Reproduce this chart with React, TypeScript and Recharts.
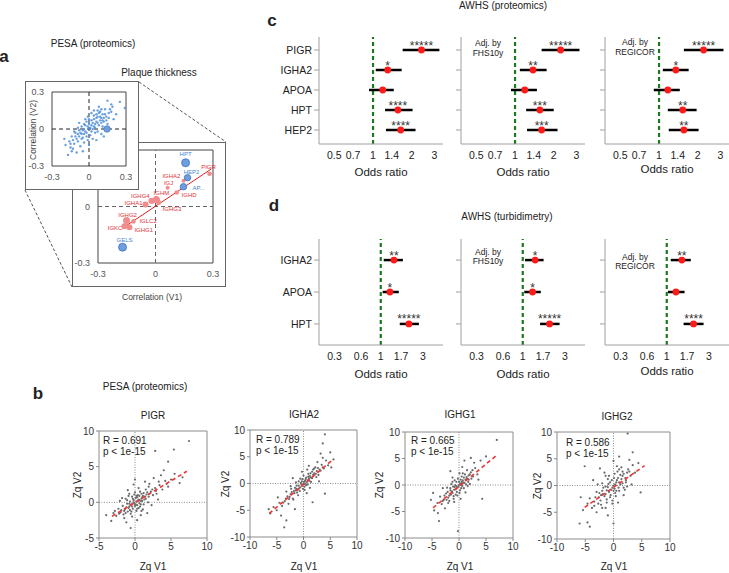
import React from "react";
import {
  ScatterChart,
  Scatter,
  XAxis,
  YAxis,
  ReferenceLine,
  ReferenceArea,
  ErrorBar,
} from "recharts";

const FONT = '"Liberation Sans", Arial, Helvetica, sans-serif';

// ---------- panel a : PESA (proteomics), plaque thickness correlations ----------
const allProtV1V2: [number, number][] = [
  [0, 0], [0.02, 0.03], [-0.03, -0.02], [0.05, 0.04], [-0.05, -0.01], [0.04, 0.08], [-0.08, -0.06],
  [0.08, 0.03], [0.01, -0.05], [-0.02, 0.06], [0.1, 0.09], [-0.1, -0.08], [0.06, 0.12], [-0.06, 0.02],
  [0.12, 0.06], [-0.12, -0.12], [0.03, -0.08], [-0.04, -0.11], [0.09, 0.14], [-0.09, 0.01], [0.14, 0.1],
  [-0.14, -0.06], [0.07, -0.02], [-0.01, 0.1], [0.11, 0.02], [-0.07, -0.14], [0.13, 0.16], [-0.16, -0.1],
  [0.0, -0.13], [0.04, 0.15], [-0.11, -0.03], [0.16, 0.13], [-0.13, -0.16], [0.1, -0.04], [-0.03, 0.08],
  [0.15, 0.04], [-0.17, -0.21], [-0.15, -0.15], [0.29, 0.17], [0.15, 0.23], [0.18, 0.2], [0.2, 0.08],
  [-0.19, -0.13], [0.08, 0.18], [-0.05, -0.18], [0.12, -0.06], [-0.08, 0.05], [0.02, 0.13], [0.06, -0.09],
  [-0.2, -0.08], [0.17, 0.16], [0.22, 0.12], [-0.1, -0.19], [0.05, 0.01], [-0.02, -0.06], [0.03, 0.05],
  [-0.06, -0.04], [0.09, 0.07], [0.25, 0.22], [0.07, 0.1], [-0.04, 0.04], [0.11, 0.12], [-0.12, -0.02],
  [0.01, 0.01], [-0.01, 0.02], [0.03, 0.0], [-0.04, -0.04], [0.06, 0.06], [0.0, 0.04], [-0.02, -0.03],
  [0.07, 0.05], [-0.07, -0.03], [0.04, 0.02], [0.02, 0.07], [-0.05, -0.07], [0.09, 0.1], [-0.09, -0.1],
  [0.05, -0.03], [-0.03, 0.03], [0.11, 0.07], [-0.11, -0.06], [0.13, 0.12], [-0.13, -0.09], [0.08, 0.13],
  [0.0, 0.08], [-0.08, -0.01], [0.1, 0.05], [0.06, 0.09], [-0.04, 0.0], [0.12, 0.09], [-0.15, -0.12],
  [0.14, 0.07], [0.02, -0.02], [-0.06, -0.08], [0.18, 0.14], [-0.01, -0.09], [0.16, 0.09], [0.07, 0.15],
  [-0.09, -0.04], [0.04, 0.11], [0.19, 0.18], [-0.14, -0.18], [0.1, 0.16],
];
const highlightV1V2: [number, number][] = [[0.146, 0]];

const blueNames = ["HPT", "HEP2", "AP...", "GELS"];
const blueV1 = [0.157, 0.167, 0.146, -0.172];
const blueV2 = [0.232, 0.153, 0.105, -0.216];

const redNames = ["PIGR", "IGHA2", "IGJ", "IGHD", "IGHM", "IGHG4", "IGHG3", "IGHA1", "IGHG2", "IGLC2", "IGKC", "IGHG1"];
const redV1 = [0.282, 0.146, 0.063, 0.11, 0.005, -0.02, 0.016, -0.052, -0.151, -0.115, -0.162, -0.136];
const redV2 = [0.174, 0.137, 0.1, 0.074, 0.037, 0.03, 0.021, 0.01, -0.074, -0.079, -0.105, -0.11];

const igFit: [number, number][] = [[-0.157, -0.105], [0.292, 0.2]];
const corrTicks = [-0.3, 0, 0.3];

// label placement / bubble size (style only)
const bubbleStyle: Record<string, [number, number, "start" | "middle" | "end", number]> = {
  HPT: [0, -9, "middle", 4],
  HEP2: [4, -6, "middle", 3.2],
  "AP...": [9, 1, "start", 3.2],
  GELS: [2, -7, "middle", 4],
  PIGR: [-1, -7, "middle", 2.3],
  IGHA2: [-3, -5, "end", 2],
  IGJ: [1, -5, "middle", 2],
  IGHD: [5, 2, "start", 2.3],
  IGHM: [5, -7, "middle", 3.5],
  IGHG4: [-2, -5, "end", 3.2],
  IGHG3: [4, 6, "start", 2.5],
  IGHA1: [-3, -2, "end", 3],
  IGHG2: [1, -5, "middle", 3.5],
  IGLC2: [6, 0, "start", 2.3],
  IGKC: [-2, 2, "end", 3],
  IGHG1: [5, 3, "start", 3],
};

// ---------- panel c : AWHS (proteomics) ----------
const protRows = ["PIGR", "IGHA2", "APOA", "HPT", "HEP2"];
const protCrudeOR = [2.38, 1.3, 1.19, 1.56, 1.64];
const protCrudeLo = [1.7, 1.05, 0.93, 1.24, 1.26];
const protCrudeHi = [3.28, 1.67, 1.45, 2.03, 2.14];
const protCrudeStars = ["*****", "*", "", "****", "****"];
const protFhsOR = [2.26, 1.38, 1.19, 1.56, 1.61];
const protFhsLo = [1.61, 1.09, 0.93, 1.22, 1.24];
const protFhsHi = [3.17, 1.76, 1.48, 2.0, 2.14];
const protFhsStars = ["*****", "**", "", "***", "***"];
const protRegOR = [2.22, 1.35, 1.17, 1.53, 1.56];
const protRegLo = [1.56, 1.07, 0.91, 1.17, 1.19];
const protRegHi = [3.17, 1.7, 1.45, 1.96, 2.03];
const protRegStars = ["*****", "*", "", "**", "**"];
const protTicks = [0.5, 0.7, 1, 1.4, 2, 3];

// ---------- panel d : AWHS (turbidimetry) ----------
const turbRows = ["IGHA2", "APOA", "HPT"];
const turbCrudeOR = [1.41, 1.27, 2.08];
const turbCrudeLo = [1.08, 1.05, 1.64];
const turbCrudeHi = [1.78, 1.6, 2.7];
const turbCrudeStars = ["**", "*", "*****"];
const turbFhsOR = [1.38, 1.29, 2.01];
const turbFhsLo = [1.06, 1.04, 1.57];
const turbFhsHi = [1.72, 1.6, 2.61];
const turbFhsStars = ["*", "*", "*****"];
const turbRegOR = [1.48, 1.27, 2.01];
const turbRegLo = [1.11, 1.03, 1.55];
const turbRegHi = [1.87, 1.59, 2.61];
const turbRegStars = ["**", "", "****"];
const turbTicks = [0.3, 0.6, 1, 1.7, 3];

// ---------- panel b : PESA (proteomics), Zq V1 vs Zq V2 ----------
const pigrPts: [number, number][] = [
  [-0.5, -0.3], [0.2, 0.1], [0.5, 0.4], [-0.2, 0.3], [0.8, 0.2], [-0.8, -0.6], [1.0, 0.7], [0.3, -0.4],
  [-1.1, -0.2], [0.6, -0.1], [-0.4, 0.8], [1.3, 0.4], [-1.4, -1.0], [0.1, 0.6], [-0.7, 0.1], [1.6, 1.1],
  [0.9, 1.2], [-0.3, -0.9], [0.4, 1.0], [-1.0, -1.3], [1.9, 0.8], [-1.7, -0.5], [0.7, -0.6], [-0.1, -0.2],
  [2.2, 1.5], [-2.0, -1.4], [1.2, -0.3], [-0.6, -1.6], [0.0, 1.4], [2.5, 1.0], [-1.3, 0.5], [1.5, 1.8],
  [-2.3, -0.9], [0.2, -1.2], [-0.9, 0.9], [2.8, 2.0], [-2.6, -1.9], [1.8, 0.0], [0.5, 2.0], [-1.5, -2.2],
  [3.0, 1.2], [3.4, 2.4], [-3.0, -1.5], [2.0, 2.6], [-0.2, 2.5], [1.1, -1.0], [-1.8, 0.6], [3.8, 1.8],
  [4.2, 3.0], [4.6, 2.2], [-3.3, -2.6], [0.8, -1.8], [2.6, 3.4], [5.0, 3.2], [5.5, 4.0], [6.2, 2.7],
  [4.0, 4.5], [2.8, 7.2], [4.6, 5.7], [5.4, 7.4], [7.5, 8.6], [-0.6, -3.6], [-1.2, -2.8], [0.3, -2.5],
  [1.4, 2.9], [3.2, 0.4], [6.6, 3.5], [-2.1, 0.2], [-4.0, -1.8], [0.0, 3.2], [1.7, -1.5], [-1.0, 1.7],
  [2.3, -0.4], [3.6, 3.8], [-0.4, -2.0], [0.6, 0.9], [-0.8, -0.2], [1.0, 0.2],
  [-0.2, 0.0], [0.1, -0.3], [0.4, 0.2], [-0.6, -0.4], [0.9, 0.5], [-0.9, -0.8], [0.3, 0.7], [-0.4, -0.6],
  [1.1, 0.9], [-1.2, -0.7], [0.0, -0.5], [0.6, 0.3], [-0.3, 0.5], [1.4, 0.8], [-1.5, -1.2], [0.2, 0.9],
  [-0.7, -1.1], [0.8, -0.3], [1.7, 1.4], [-1.9, -1.1], [0.5, -0.8], [-0.1, 1.1], [1.2, 1.3], [-1.1, 0.3],
  [2.0, 1.2], [-0.5, -1.3], [0.7, 1.5], [-1.6, -1.7], [2.4, 1.8], [-2.2, -1.6], [0.9, -1.2], [-0.8, 1.2],
  [1.5, 0.5], [-1.3, -1.5], [0.3, -0.9], [2.9, 1.6], [1.9, 2.2], [-2.8, -1.2], [3.3, 2.9], [4.4, 2.6],
];
const pigrFit: [number, number][] = [[-3.2, -1.96], [7.2, 4.35]];

const igha2Pts: [number, number][] = [
  [0, 0], [0.3, 0.5], [-0.4, -0.2], [0.8, 0.6], [-0.8, -0.9], [1.2, 1.4], [-1.3, -1.0], [0.5, -0.3],
  [-0.2, 0.8], [1.6, 1.0], [-1.7, -1.8], [2.0, 1.9], [-2.2, -1.6], [0.9, 1.8], [-1.0, -2.2], [2.5, 2.3],
  [-2.6, -2.5], [1.4, 0.3], [-0.6, 0.9], [3.0, 2.6], [-3.0, -2.4], [2.2, 3.0], [-1.9, -3.0], [3.4, 3.5],
  [-3.5, -3.3], [0.2, -1.2], [-0.9, 0.4], [3.8, 2.8], [-4.0, -4.2], [1.8, 2.6], [-2.8, -3.8], [4.2, 4.3],
  [-4.5, -3.6], [2.8, 1.6], [-1.4, 0.2], [4.6, 3.4], [-5.0, -5.0], [1.0, 3.3], [-3.2, -1.5], [3.6, 4.8],
  [-5.6, -4.4], [-6.2, -5.6], [0.6, -1.8], [2.6, 4.0], [4.0, 9.2], [3.6, 7.5], [5.0, 5.8], [5.6, 4.5],
  [5.2, 3.0], [1.7, -3.5], [4.0, -1.9], [-3.2, -6.9], [-3.6, -8.2], [-4.2, -6.0], [-6.5, -4.8], [-2.4, -0.5],
  [1.2, -0.8], [-0.3, 2.2], [2.9, 0.4], [-1.6, -4.8], [0.7, 2.6], [-2.0, 1.0], [3.2, 5.6], [-4.8, -2.6],
  [0.1, 0.3], [-0.2, -0.4], [0.6, 0.2], [-0.6, -0.7], [1.0, 1.0], [-1.1, -1.2], [0.4, 0.8], [-0.5, 0.1],
  [1.4, 1.1], [-1.5, -1.3], [0.2, -0.6], [0.9, 1.3], [-0.9, -0.4], [1.8, 1.6], [-1.8, -1.4], [0.5, 1.1],
  [-1.2, -1.7], [2.3, 1.8], [-2.4, -2.0], [1.1, 0.5], [-0.7, -1.4], [2.7, 2.9], [-2.7, -2.9], [1.6, 2.2],
  [-1.6, -0.8], [3.2, 2.4], [-3.3, -2.8], [0.0, 1.5], [0.8, -0.2], [-0.1, -1.0], [2.0, 2.8], [-2.0, -2.8],
  [1.3, 1.9], [-1.3, -0.4], [3.6, 3.0], [-3.8, -3.6], [0.3, -0.1], [-0.3, 0.4], [2.4, 1.2], [-2.3, -1.0],
];
const igha2Fit: [number, number][] = [[-6.4, -5.6], [5.3, 4.3]];

const ighg1Pts: [number, number][] = [
  [0, 0], [-0.3, -0.5], [0.4, 0.3], [-0.8, -0.4], [0.7, 0.9], [-1.2, -1.5], [1.0, 0.4], [-0.5, 0.6],
  [0.2, -1.0], [-1.6, -1.0], [1.4, 1.5], [-1.0, -2.1], [0.5, 1.6], [-2.0, -2.4], [1.8, 1.0], [-0.2, 1.2],
  [-1.4, 0.2], [2.2, 2.4], [-2.4, -1.6], [0.9, -0.6], [-1.8, -3.0], [1.5, 2.8], [-2.8, -2.8], [2.6, 1.6],
  [-0.6, -1.8], [0.1, 2.2], [-3.2, -3.6], [3.0, 3.2], [-2.2, -0.5], [1.2, -1.4], [-3.5, -2.2], [2.0, 0.2],
  [-1.2, 1.4], [3.4, 2.0], [-2.6, -4.4], [0.6, 3.4], [-4.0, -3.4], [2.8, 4.2], [-0.9, -3.2], [1.6, -0.2],
  [7.0, 8.5], [2.2, 5.1], [-3.9, -5.3], [-3.7, -6.8], [-0.2, -8.7], [-4.8, -1.5], [4.3, -2.6], [4.0, 4.6],
  [3.6, 1.0], [-4.6, -4.8], [0.3, -2.6], [-1.6, 2.6], [5.0, 5.4], [-3.0, -0.6], [-5.2, -2.8], [1.0, 4.6],
  [0.2, 0.2], [-0.1, -0.3], [0.5, 0.6], [-0.6, -0.8], [0.8, 0.5], [-0.9, -0.9], [0.3, 1.0], [-0.4, -1.3],
  [1.2, 1.0], [-1.3, -1.2], [0.0, 0.6], [0.6, -0.2], [-0.7, 0.0], [1.5, 1.2], [-1.5, -1.8], [0.4, -0.6],
  [-1.1, -0.3], [1.8, 1.8], [-1.8, -2.0], [0.9, 1.4], [-0.3, -2.0], [-2.1, -1.3], [2.3, 1.2], [-2.3, -2.8],
  [1.1, 2.0], [-0.8, 0.9], [2.5, 2.8], [-2.7, -2.0], [0.1, -1.5], [-1.6, -0.6], [1.3, 0.1], [-1.0, -2.6],
  [0.7, 2.2], [-2.0, -3.4], [2.0, 2.0], [-0.5, -0.2], [1.7, 0.6], [-3.0, -3.0], [0.5, 0.0], [-1.2, 0.6],
];
const ighg1Fit: [number, number][] = [[-4.8, -4.3], [6.85, 5.5]];

const ighg2Pts: [number, number][] = [
  [0, 0], [-0.4, -0.8], [0.5, 0.6], [-1.0, -0.3], [0.8, 1.4], [-1.4, -1.6], [1.2, 0.2], [-0.3, 1.0],
  [0.3, -1.4], [-2.0, -1.0], [1.6, 1.8], [-1.2, -2.6], [0.2, 2.2], [-2.6, -2.2], [2.2, 1.0], [-0.8, 1.8],
  [-2.0, 0.4], [2.6, 3.0], [-3.0, -1.2], [1.0, -1.0], [-2.2, -3.6], [1.4, 3.4], [-3.4, -3.0], [3.0, 1.8],
  [-0.6, -2.2], [0.6, 3.6], [-3.8, -4.2], [3.4, 3.8], [-2.8, 0.2], [1.8, -1.8], [-4.2, -2.4], [2.4, -0.2],
  [-1.6, 2.4], [3.8, 2.4], [-3.0, -5.0], [0.0, 4.6], [-4.6, -3.4], [2.8, 4.8], [-1.4, -4.2], [2.0, -0.8],
  [2.5, 9.7], [3.4, 6.2], [-5.1, 3.6], [-4.6, -6.9], [-4.2, -7.7], [0.0, -7.1], [-6.0, -7.1], [4.8, -1.3],
  [4.4, 4.2], [-5.4, -4.6], [0.8, -3.2], [-2.4, 3.2], [1.0, 5.4], [-3.6, 1.0], [-5.8, -2.2], [3.2, 0.2],
  [-1.0, -5.6], [1.6, 2.6], [-0.2, -3.4], [-2.2, -1.8],
  [0.3, 0.2], [-0.2, -0.4], [0.6, 1.0], [-0.8, -1.2], [1.0, 0.6], [-1.2, -0.9], [0.1, 1.4], [-0.5, -1.8],
  [1.4, 1.2], [-1.6, -2.0], [0.2, -0.6], [0.9, -0.4], [-0.9, 0.3], [1.8, 2.2], [-1.9, -1.6], [0.5, -1.0],
  [-1.4, -0.2], [2.1, 1.4], [-2.3, -2.8], [1.2, 2.0], [-0.2, -2.8], [-2.5, -1.4], [2.4, 2.4], [-2.7, -3.4],
  [1.0, 3.0], [-1.0, 1.2], [2.8, 2.6], [-3.2, -2.2], [0.4, -2.0], [-1.8, -0.4], [1.6, 0.4], [-1.2, -3.2],
  [0.7, 2.6], [-2.0, -4.2], [2.2, 0.6], [-0.6, 0.6], [1.8, -0.4], [-3.4, -3.8], [0.0, -1.0], [-1.4, 1.8],
];
const ighg2Fit: [number, number][] = [[-5.1, -4.1], [5.5, 3.7]];

// ---------- helpers ----------
function Txt({ x, y, s = 10, a = "middle", b = false, c = "#222", r = false, children }: any) {
  const tx = a === "middle" ? "-50%" : a === "end" ? "-100%" : "0%";
  return (
    <div
      style={{
        position: "absolute",
        left: x,
        top: y,
        transform: `translate(${tx}, -50%)${r ? " rotate(-90deg)" : ""}`,
        fontSize: s,
        fontWeight: b ? 700 : 400,
        color: c,
        whiteSpace: "nowrap",
        lineHeight: 1,
      }}
    >
      {children}
    </div>
  );
}

const toXY = (pts: [number, number][]) => pts.map(([x, y]) => ({ x, y }));

function Forest({ left, top, h, rows, or, lo, hi, stars, domain, ticks, rowDomain, labels }: any) {
  const W = 124;
  const YA = 60;
  const XA = 22;
  const data = rows.map((_: string, i: number) => ({
    row: i + 1,
    or: or[i],
    err: [or[i] - lo[i], hi[i] - or[i]],
    stars: stars[i],
  }));
  return (
    <div style={{ position: "absolute", left: left - YA, top }}>
      <ScatterChart width={YA + W} height={h + XA} margin={{ top: 0, right: 0, bottom: 0, left: 0 }}>
        <XAxis
          type="number"
          dataKey="or"
          scale="log"
          domain={domain}
          allowDataOverflow
          ticks={ticks}
          interval={0}
          height={XA}
          tickLine={false}
          axisLine={{ stroke: "#a0a0a0" }}
          tick={{ fontSize: 10.5, fill: "#222", fontFamily: FONT }}
          tickFormatter={(v: number) => String(v)}
        />
        <YAxis
          type="number"
          dataKey="row"
          domain={rowDomain}
          reversed
          allowDataOverflow
          ticks={rows.map((_: string, i: number) => i + 1)}
          interval={0}
          width={YA}
          tickSize={5}
          tickLine={{ stroke: "#a0a0a0" }}
          axisLine={{ stroke: "#a0a0a0" }}
          tick={{ fontSize: 10.5, fill: "#222", fontFamily: FONT }}
          tickFormatter={(v: number) => (labels ? rows[v - 1] : "")}
        />
        <ReferenceLine x={1} stroke="#1c7a1c" strokeWidth={2.2} strokeDasharray="4 3" />
        <Scatter
          data={data}
          isAnimationActive={false}
          shape={(s: any) => (
            <g>
              <circle cx={s.cx} cy={s.cy} r={3.4} fill="#ff1a1a" />
              <text x={s.cx} y={s.cy - 0.5} textAnchor="middle" fontSize={12} fill="#333" fontFamily={FONT}>
                {s.payload.stars}
              </text>
            </g>
          )}
        >
          <ErrorBar dataKey="err" direction="x" width={0} stroke="#000" strokeWidth={2.5} />
        </Scatter>
      </ScatterChart>
    </div>
  );
}

function Corr({ left, top, w, h, pts, fit, dom, ticks }: any) {
  const YA = 24;
  const XA = 20;
  const MT = 7;
  return (
    <div style={{ position: "absolute", left: left - YA, top: top - MT }}>
      <ScatterChart width={YA + w + 7} height={MT + h + XA} margin={{ top: MT, right: 7, bottom: 0, left: 0 }}>
        <XAxis
          type="number"
          dataKey="x"
          domain={dom}
          ticks={ticks}
          interval={0}
          height={XA}
          tickSize={3}
          axisLine={false}
          tickLine={{ stroke: "#888" }}
          tick={{ fontSize: 10, fill: "#333", fontFamily: FONT }}
        />
        <YAxis
          type="number"
          dataKey="y"
          domain={dom}
          ticks={ticks}
          interval={0}
          width={YA}
          tickSize={3}
          axisLine={false}
          tickLine={{ stroke: "#888" }}
          tick={{ fontSize: 10, fill: "#333", fontFamily: FONT }}
        />
        <ReferenceArea x1={dom[0]} x2={dom[1]} y1={dom[0]} y2={dom[1]} fill="none" stroke="#8c8c8c" />
        <ReferenceLine x={0} stroke="#8c8c8c" strokeDasharray="1 1.5" />
        <ReferenceLine y={0} stroke="#8c8c8c" strokeDasharray="1 1.5" />
        <Scatter
          data={toXY(pts)}
          isAnimationActive={false}
          shape={(s: any) => <circle cx={s.cx} cy={s.cy} r={1.1} fill="#6a6a6a" />}
        />
        <Scatter
          data={toXY(fit)}
          isAnimationActive={false}
          line={{ stroke: "#f03434", strokeWidth: 1.6, strokeDasharray: "4 3" }}
          shape={() => <g />}
        />
      </ScatterChart>
    </div>
  );
}

const bubble = (blue: boolean) => (s: any) => {
  const st = bubbleStyle[s.payload.name];
  return (
    <g>
      <circle
        cx={s.cx}
        cy={s.cy}
        r={st[3]}
        fill={blue ? "#6f9edc" : "#f28b8b"}
        stroke={blue ? "#3a74c4" : "none"}
        strokeWidth={0.8}
      />
      <text
        x={s.cx + st[0]}
        y={s.cy + st[1]}
        textAnchor={st[2]}
        dominantBaseline="central"
        fontSize={6}
        fontFamily={FONT}
        fill={blue ? "#3f83d0" : "#e0343a"}
      >
        {s.payload.name}
      </text>
    </g>
  );
};

const frame = (x: number, y: number, w: number, h: number) => (
  <div
    style={{
      position: "absolute",
      left: x,
      top: y,
      width: w,
      height: h,
      boxSizing: "border-box",
      border: "1.5px solid #666",
      background: "#fff",
    }}
  />
);

const cornerTick = (v: number) => (v === 0 ? "0" : v.toFixed(1));

export default function App() {
  const redData = redNames.map((name, i) => ({ name, x: redV1[i], y: redV2[i] }));
  const blueData = blueNames.map((name, i) => ({ name, x: blueV1[i], y: blueV2[i] }));
  const corrAxes = (YA: number) => [
    <XAxis
      key="x"
      type="number"
      dataKey="x"
      domain={[-0.3, 0.3]}
      ticks={corrTicks}
      interval={0}
      height={20}
      axisLine={false}
      tickLine={false}
      tick={{ fontSize: 9, fill: "#555", fontFamily: FONT }}
      tickFormatter={cornerTick}
    />,
    <YAxis
      key="y"
      type="number"
      dataKey="y"
      domain={[-0.3, 0.3]}
      ticks={corrTicks}
      interval={0}
      width={YA}
      axisLine={false}
      tickLine={false}
      tick={{ fontSize: 9, fill: "#555", fontFamily: FONT }}
      tickFormatter={cornerTick}
    />,
    <ReferenceArea key="box" x1={-0.3} x2={0.3} y1={-0.3} y2={0.3} fill="none" stroke="#444" />,
  ];

  return (
    <div
      style={{
        position: "absolute",
        left: 0,
        top: 0,
        width: 729,
        height: 573,
        overflow: "hidden",
        background: "#fff",
        fontFamily: FONT,
        color: "#222",
      }}
    >
      {/* ----- panel a ----- */}
      <svg width={729} height={573} style={{ position: "absolute", left: 0, top: 0 }}>
        <line x1={139} y1={82} x2={226} y2={142} stroke="#555" strokeDasharray="3 2" />
        <line x1={25} y1={190} x2={72} y2={287} stroke="#555" strokeDasharray="3 2" />
      </svg>
      {frame(72, 142, 154, 145)}
      <div style={{ position: "absolute", left: 68, top: 144 }}>
        <ScatterChart width={30 + 115 + 8} height={6 + 113 + 20} margin={{ top: 6, right: 8, bottom: 0, left: 0 }}>
          {corrAxes(30)}
          <ReferenceLine x={0} stroke="#666" strokeDasharray="4 3" />
          <ReferenceLine y={0} stroke="#666" strokeDasharray="4 3" />
          <Scatter data={toXY(igFit)} isAnimationActive={false} line={{ stroke: "#e02020", strokeWidth: 1 }} shape={() => <g />} />
          <Scatter data={redData} isAnimationActive={false} shape={bubble(false)} />
          <Scatter data={blueData} isAnimationActive={false} shape={bubble(true)} />
        </ScatterChart>
      </div>
      {frame(25, 81, 114, 109)}
      <div style={{ position: "absolute", left: 22, top: 86 }}>
        <ScatterChart width={30 + 74 + 6} height={6 + 74 + 20} margin={{ top: 6, right: 6, bottom: 0, left: 0 }}>
          {corrAxes(30)}
          <ReferenceLine x={0} stroke="#222" strokeDasharray="4 3" />
          <ReferenceLine y={0} stroke="#222" strokeDasharray="4 3" />
          <Scatter
            data={toXY(allProtV1V2)}
            isAnimationActive={false}
            shape={(s: any) => <circle cx={s.cx} cy={s.cy} r={1.2} fill="#4f8fd8" fillOpacity={0.85} />}
          />
          <Scatter
            data={toXY(highlightV1V2)}
            isAnimationActive={false}
            shape={(s: any) => <circle cx={s.cx} cy={s.cy} r={3.3} fill="#6f9edc" stroke="#3a74c4" strokeWidth={0.6} />}
          />
        </ScatterChart>
      </div>
      <Txt x={4} y={56} s={17} b>a</Txt>
      <Txt x={93} y={44} s={10}>PESA (proteomics)</Txt>
      <Txt x={159} y={73} s={10}>Plaque thickness</Txt>
      <Txt x={33} y={130} s={8.5} r c="#444">Correlation  (V2)</Txt>
      <Txt x={152} y={297} s={8.5} c="#444">Correlation  (V1)</Txt>

      {/* ----- panel c ----- */}
      <Txt x={272} y={20} s={17} b>c</Txt>
      <Txt x={503} y={6} s={10}>AWHS (proteomics)</Txt>
      <Forest left={319} top={37} h={107} rows={protRows} or={protCrudeOR} lo={protCrudeLo} hi={protCrudeHi}
        stars={protCrudeStars} domain={[0.38, 3.5]} ticks={protTicks} rowDomain={[0.35, 5.7]} labels />
      <Forest left={461} top={37} h={107} rows={protRows} or={protFhsOR} lo={protFhsLo} hi={protFhsHi}
        stars={protFhsStars} domain={[0.38, 3.5]} ticks={protTicks} rowDomain={[0.35, 5.7]} labels={false} />
      <Forest left={605} top={37} h={107} rows={protRows} or={protRegOR} lo={protRegLo} hi={protRegHi}
        stars={protRegStars} domain={[0.38, 3.5]} ticks={protTicks} rowDomain={[0.35, 5.7]} labels={false} />
      <Txt x={488} y={43} s={8.5}>Adj. by</Txt>
      <Txt x={488} y={53} s={8.5}>FHS10y</Txt>
      <Txt x={635} y={42} s={8.5}>Adj. by</Txt>
      <Txt x={635} y={52} s={8.5}>REGICOR</Txt>
      <Txt x={381} y={173} s={11.5}>Odds ratio</Txt>
      <Txt x={523} y={173} s={11.5}>Odds ratio</Txt>
      <Txt x={667} y={170} s={11.5}>Odds ratio</Txt>

      {/* ----- panel d ----- */}
      <Txt x={274} y={205} s={17} b>d</Txt>
      <Txt x={507} y={217} s={10}>AWHS (turbidimetry)</Txt>
      <Forest left={319} top={239} h={106} rows={turbRows} or={turbCrudeOR} lo={turbCrudeLo} hi={turbCrudeHi}
        stars={turbCrudeStars} domain={[0.2, 5.06]} ticks={turbTicks} rowDomain={[0.34, 3.66]} labels />
      <Forest left={461} top={239} h={106} rows={turbRows} or={turbFhsOR} lo={turbFhsLo} hi={turbFhsHi}
        stars={turbFhsStars} domain={[0.2, 5.06]} ticks={turbTicks} rowDomain={[0.34, 3.66]} labels={false} />
      <Forest left={605} top={239} h={106} rows={turbRows} or={turbRegOR} lo={turbRegLo} hi={turbRegHi}
        stars={turbRegStars} domain={[0.2, 5.06]} ticks={turbTicks} rowDomain={[0.34, 3.66]} labels={false} />
      <Txt x={488} y={252} s={8.5}>Adj. by</Txt>
      <Txt x={488} y={261} s={8.5}>FHS10y</Txt>
      <Txt x={635} y={257} s={8.5}>Adj. by</Txt>
      <Txt x={635} y={266} s={8.5}>REGICOR</Txt>
      <Txt x={381} y={375} s={11.5}>Odds ratio</Txt>
      <Txt x={523} y={375} s={11.5}>Odds ratio</Txt>
      <Txt x={667} y={372} s={11.5}>Odds ratio</Txt>

      {/* ----- panel b ----- */}
      <Txt x={38} y={393} s={17} b>b</Txt>
      <Txt x={145} y={387} s={10}>PESA (proteomics)</Txt>

      <Corr left={99} top={431} w={108} h={107} pts={pigrPts} fit={pigrFit} dom={[-5, 10]} ticks={[-5, 0, 5, 10]} />
      <Corr left={250} top={430} w={107} h={107} pts={igha2Pts} fit={igha2Fit} dom={[-10, 10]} ticks={[-10, -5, 0, 5, 10]} />
      <Corr left={405} top={432} w={108} h={106} pts={ighg1Pts} fit={ighg1Fit} dom={[-10, 10]} ticks={[-10, -5, 0, 5, 10]} />
      <Corr left={557} top={432} w={113} h={107} pts={ighg2Pts} fit={ighg2Fit} dom={[-10, 10]} ticks={[-10, -5, 0, 5, 10]} />

      <Txt x={153} y={416} s={10}>PIGR</Txt>
      <Txt x={304} y={415} s={10}>IGHA2</Txt>
      <Txt x={460} y={415} s={10}>IGHG1</Txt>
      <Txt x={617} y={417} s={10}>IGHG2</Txt>

      <Txt x={103} y={441} s={10} a="start">R = 0.691</Txt>
      <Txt x={103} y={452} s={10} a="start">p &lt; 1e-15</Txt>
      <Txt x={256} y={440} s={10} a="start">R = 0.789</Txt>
      <Txt x={256} y={451} s={10} a="start">p &lt; 1e-15</Txt>
      <Txt x={411} y={441} s={10} a="start">R = 0.665</Txt>
      <Txt x={411} y={452} s={10} a="start">p &lt; 1e-15</Txt>
      <Txt x={566} y={443} s={10} a="start">R = 0.586</Txt>
      <Txt x={566} y={454} s={10} a="start">p &lt; 1e-15</Txt>

      <Txt x={78} y={485} s={10} r>Zq V2</Txt>
      <Txt x={226} y={484} s={10} r>Zq V2</Txt>
      <Txt x={380} y={485} s={10} r>Zq V2</Txt>
      <Txt x={538} y={486} s={10} r>Zq V2</Txt>
      <Txt x={153} y={567} s={10}>Zq V1</Txt>
      <Txt x={304} y={567} s={10}>Zq V1</Txt>
      <Txt x={460} y={567} s={10}>Zq V1</Txt>
      <Txt x={614} y={567} s={10}>Zq V1</Txt>
    </div>
  );
}
